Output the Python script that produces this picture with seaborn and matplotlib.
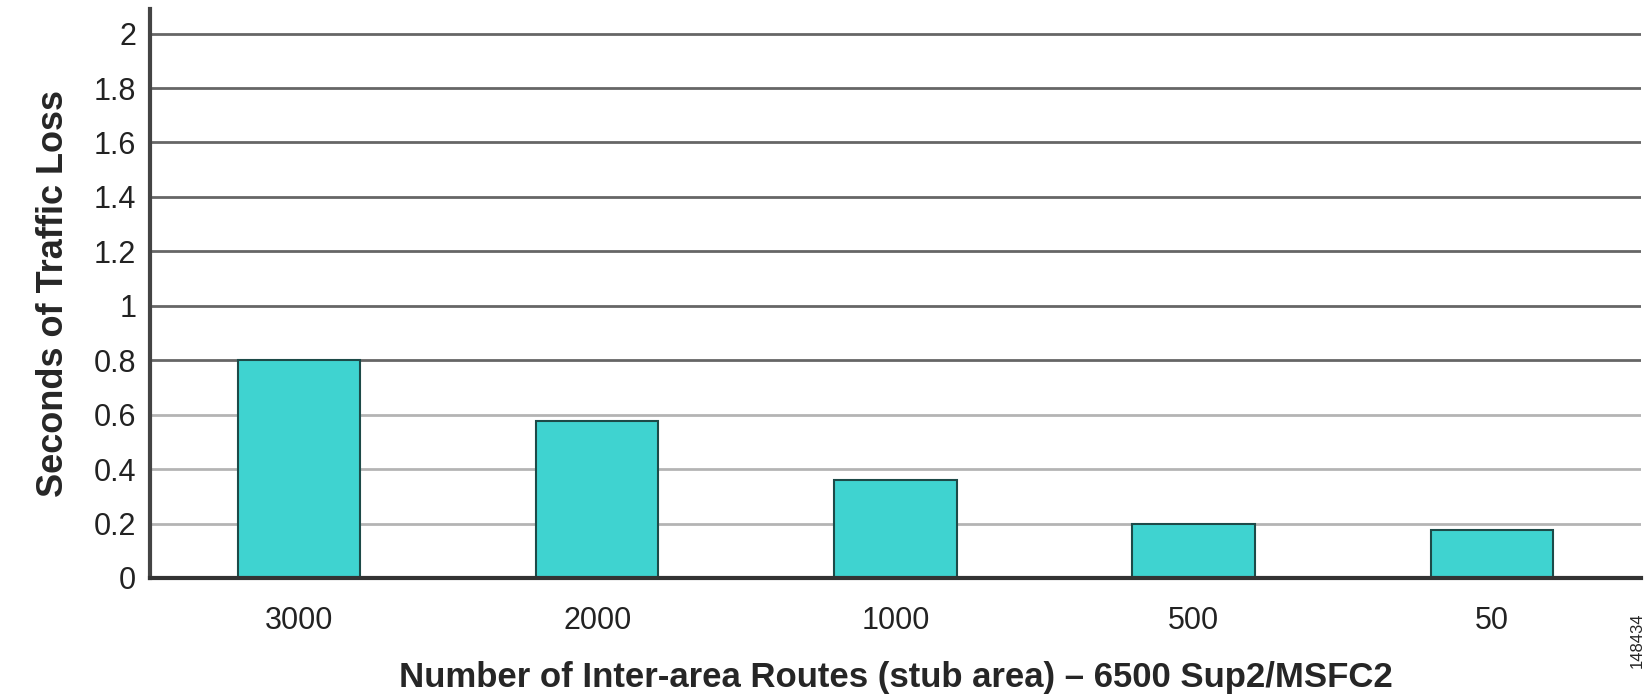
import seaborn as sns
import matplotlib.pyplot as plt

# Traffic loss per number of inter-area routes
routes = ["3000", "2000", "1000", "500", "50"]
loss_sec = [0.80, 0.575, 0.36, 0.20, 0.175]
y_ticks = [0, 0.2, 0.4, 0.6, 0.8, 1, 1.2, 1.4, 1.6, 1.8, 2]
y_tick_labels = ["0", "0.2", "0.4", "0.6", "0.8", "1", "1.2", "1.4", "1.6", "1.8", "2"]

sns.set_style("white")
plt.rcParams['font.family'] = ['Liberation Sans', 'DejaVu Sans']

fig = plt.figure(figsize=(16.49, 6.98), dpi=100)
ax = fig.add_axes([0.091, 0.172, 0.904, 0.815])

sns.barplot(x=routes, y=loss_sec, color='#3fd3d0', saturation=1, width=0.41,
            edgecolor='#1d4a48', linewidth=1.5, ax=ax, zorder=3)

ax.set_xlim(-0.5, 4.5)
ax.set_ylim(0, 2.09)
ax.set_yticks(y_ticks)
ax.set_yticklabels(y_tick_labels)

# horizontal gridlines
for yv in y_ticks[1:]:
    col = '#b4b4b4' if yv < 0.7 else '#666666'
    ax.axhline(yv, color=col, linewidth=2, zorder=1)

for s in ['top', 'right']:
    ax.spines[s].set_visible(False)
ax.spines['left'].set_color('#444444')
ax.spines['left'].set_linewidth(3)
ax.spines['bottom'].set_color('#333333')
ax.spines['bottom'].set_linewidth(3)
ax.spines['bottom'].set_zorder(4)

ax.tick_params(axis='both', length=0, labelsize=22, colors='#222222')
ax.tick_params(axis='x', pad=20)
ax.tick_params(axis='y', pad=10)

ax.set_xlabel("Number of Inter-area Routes (stub area) \u2013 6500 Sup2/MSFC2",
              fontsize=25, fontweight='bold', labelpad=18)
ax.set_ylabel("Seconds of Traffic Loss", fontsize=26, fontweight='bold', labelpad=16)

fig.text(0.993, 0.083, "148434", rotation=90, fontsize=12, ha='center', va='center')

plt.savefig("out.png", dpi=100)
